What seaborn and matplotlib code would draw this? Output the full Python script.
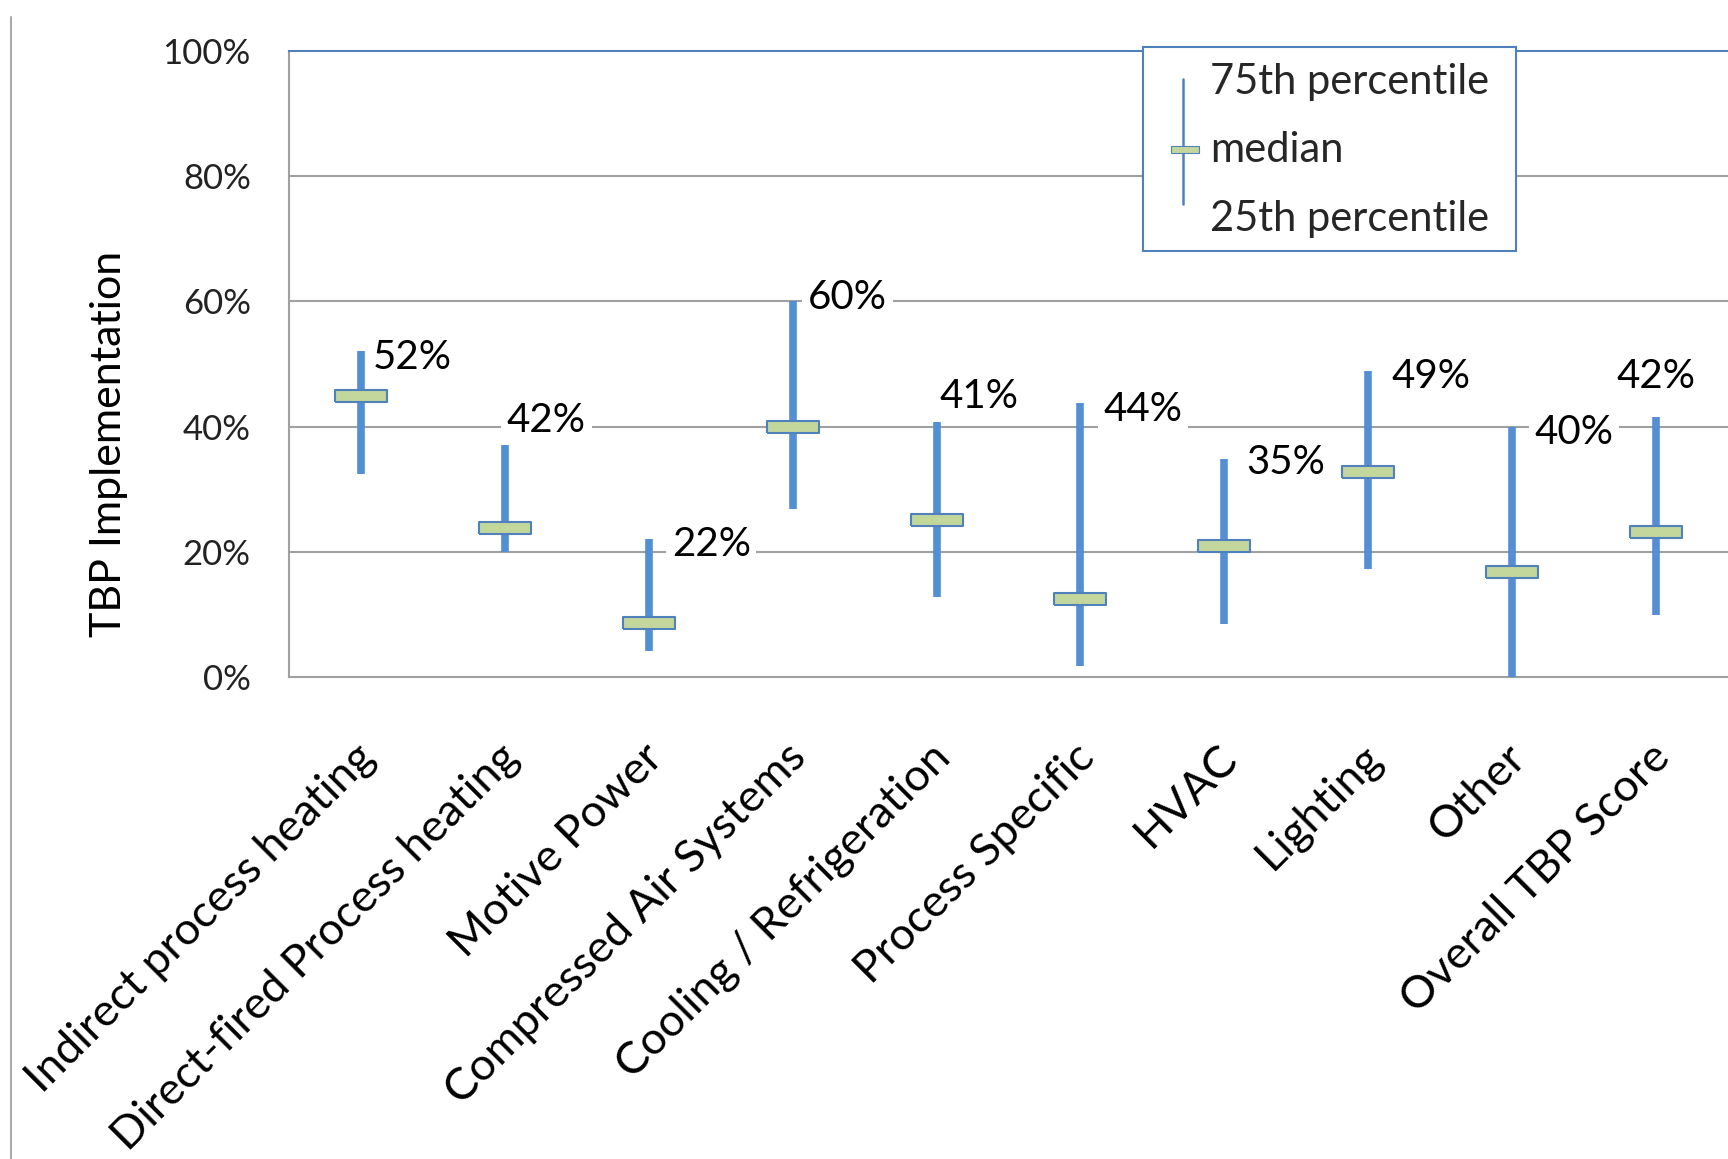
# Rango intercuartil de implementación TBP por sistema (percentil 25, mediana, percentil 75)
import numpy as np
import pandas as pd
import matplotlib
matplotlib.use("Agg")
import matplotlib.pyplot as plt
import seaborn as sns
from matplotlib.lines import Line2D
from matplotlib.patches import Rectangle
from matplotlib.transforms import ScaledTranslation

# Datos
categories = ["Indirect process heating", "Direct-fired Process heating", "Motive Power",
              "Compressed Air Systems", "Cooling / Refrigeration", "Process Specific",
              "HVAC", "Lighting", "Other", "Overall TBP Score"]
p25 = [32.4, 20.0, 4.2, 26.8, 12.7, 1.8, 8.5, 17.3, 0.0, 9.9]
median = [44.9, 23.8, 8.6, 40.0, 25.0, 12.5, 21.0, 32.7, 16.7, 23.2]
p75 = [52.0, 37.0, 22.0, 60.0, 40.7, 43.7, 34.9, 48.9, 40.0, 41.5]
value_labels = ["52%", "42%", "22%", "60%", "41%", "44%", "35%", "49%", "40%", "42%"]
yticks = [0, 20, 40, 60, 80, 100]

# Posición de las etiquetas (solo layout)
label_y = [51.0, 40.9, 21.2, 60.7, 44.8, 42.7, 34.3, 48.0, 39.0, 48.0]
label_dx = [0.084, 0.015, 0.16, 0.107, 0.023, 0.16, 0.153, 0.16, 0.153, 0.0]

# Formato largo: tres valores por categoría -> mediana e intervalo min-max
df = pd.DataFrame({
    "category": np.repeat(categories, 3),
    "value": np.column_stack([p25, median, p75]).ravel(),
})

sns.set_theme(style="white")
plt.rcParams["font.family"] = ["Lato", "DejaVu Sans"]

blue = "#558ED5"
edge_blue = "#4F81BD"
green = "#C3D69B"
grid_gray = "#A0A0A0"

fig = plt.figure(figsize=(17.28, 11.59), dpi=100)
ax = fig.add_axes([0.1672, 0.4159, 0.8328, 0.5401])

rect = [(-1, -0.227), (1, -0.227), (1, 0.227), (-1, 0.227), (-1, -0.227)]
sns.pointplot(data=df, x="category", y="value", estimator="median", errorbar=("pi", 100),
              linestyle="none", marker=rect, markersize=38, markerfacecolor=green,
              markeredgecolor=edge_blue, markeredgewidth=1.5, color=blue, zorder=5,
              err_kws={"linewidth": 5.5, "color": blue, "solid_capstyle": "butt", "zorder": 4},
              ax=ax)

ax.set_xlim(-0.5, len(categories) - 0.5)
ax.set_ylim(0, 100)
ax.set_yticks(yticks, [f"{t}%" for t in yticks])
for t in yticks[1:-1]:
    ax.axhline(t, color=grid_gray, linewidth=1.5, zorder=1)

# Ejes
for side in ["left", "bottom"]:
    ax.spines[side].set_color(grid_gray)
    ax.spines[side].set_linewidth(1.5)
ax.spines["top"].set_color(edge_blue)
ax.spines["top"].set_linewidth(1.5)
ax.spines["right"].set_visible(False)

ax.tick_params(axis="y", length=9.4, width=1.5, color=grid_gray, pad=18, labelsize=25, labelcolor="#222222")
ax.set_xticks(np.arange(len(categories) + 1) - 0.5, minor=True)
ax.tick_params(axis="x", which="minor", length=11.5, width=1.5, color=grid_gray, direction="out")
ax.set_xticks(range(len(categories)), [""] * len(categories))
ax.tick_params(axis="x", which="major", length=0)
ax.set_xlabel("")

# Etiquetas de categoría rotadas
offset = ax.get_xaxis_transform() + ScaledTranslation(0.07, -0.74, fig.dpi_scale_trans)
for i, name in enumerate(categories):
    ax.text(i, 0, name, transform=offset, rotation=45, rotation_mode="anchor",
            ha="right", va="center", fontsize=32.5, color="black")

ax.set_ylabel("TBP Implementation", fontsize=31, color="black")
ax.yaxis.set_label_coords(-0.112, 0.372)

# Etiquetas de valor
for i, txt in enumerate(value_labels):
    ha = "center" if i == len(categories) - 1 else "left"
    ax.text(i + label_dx[i], label_y[i], txt, ha=ha, va="center", fontsize=29, color="black",
            zorder=3, bbox=dict(facecolor="white", edgecolor="none", pad=4))

# Leyenda dibujada a mano
lg = fig.add_axes([0.6615, 0.7834, 0.2159, 0.1760])
lg.set_xlim(0, 373)
lg.set_ylim(204, 0)
lg.set_xticks([])
lg.set_yticks([])
for s in lg.spines.values():
    s.set_color(edge_blue)
    s.set_linewidth(1.5)
lg.plot([40, 40], [32, 157], color=edge_blue, linewidth=1.8)
lg.add_patch(Rectangle((28, 99), 28, 7, facecolor=green, edgecolor=edge_blue, linewidth=0.8, zorder=3))
lg.text(67, 47, "75th percentile", fontsize=30, va="baseline", ha="left")
lg.text(67, 115, "median", fontsize=30, va="baseline", ha="left")
lg.text(67, 184, "25th percentile", fontsize=30, va="baseline", ha="left")

# Borde izquierdo del gráfico
fig.add_artist(Line2D([0.0064, 0.0064], [0, 0.985], transform=fig.transFigure,
                      color="#AAAAAA", linewidth=1.5))

fig.savefig("out.png", dpi=100)
